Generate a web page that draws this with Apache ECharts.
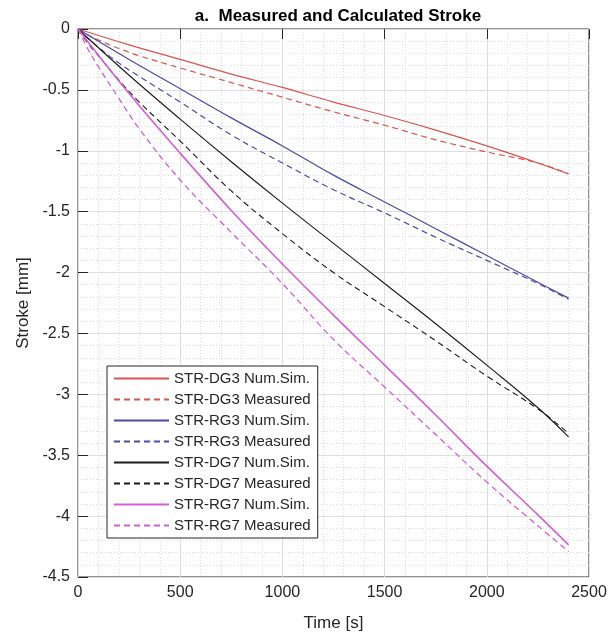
<!DOCTYPE html>
<html>
<head>
<meta charset="utf-8">
<script src="https://cdn.jsdelivr.net/npm/echarts@6/dist/echarts.min.js"></script>
<style>html,body{margin:0;padding:0;background:#fff;}#c{width:611px;height:641px;}</style>
</head>
<body>
<div id="c"></div>
<script>
// Time samples [s]
const tNum = [0, 250, 500, 750, 1000, 1250, 1500, 1750, 2000, 2250, 2400];
const tMeas = [0, 50, 100, 200, 300, 500, 750, 1000, 1250, 1500, 1750, 2000, 2250, 2400];

// Stroke [mm]
const dg3Num  = [0, -0.13, -0.25, -0.37, -0.48, -0.60, -0.71, -0.83, -0.96, -1.10, -1.19];
const dg3Meas = [0, -0.05, -0.09, -0.16, -0.22, -0.32, -0.44, -0.56, -0.68, -0.79, -0.91, -1.01, -1.10, -1.19];
const rg3Num  = [0, -0.25, -0.49, -0.73, -0.96, -1.20, -1.42, -1.64, -1.86, -2.08, -2.21];
const rg3Meas = [0, -0.08, -0.15, -0.28, -0.39, -0.60, -0.87, -1.10, -1.32, -1.51, -1.71, -1.90, -2.09, -2.22];
const dg7Num  = [0, -0.38, -0.74, -1.09, -1.43, -1.76, -2.09, -2.42, -2.76, -3.11, -3.35];
const dg7Meas = [0, -0.12, -0.22, -0.42, -0.60, -0.92, -1.33, -1.68, -2.00, -2.28, -2.56, -2.85, -3.12, -3.32];
const rg7Num  = [0, -0.53, -1.02, -1.49, -1.93, -2.35, -2.76, -3.17, -3.59, -3.99, -4.236];
const rg7Meas = [0, -0.17, -0.31, -0.57, -0.82, -1.24, -1.67, -2.09, -2.55, -2.94, -3.33, -3.72, -4.08, -4.29];

const seriesNames = [
  'STR-DG3 Num.Sim.', 'STR-DG3 Measured',
  'STR-RG3 Num.Sim.', 'STR-RG3 Measured',
  'STR-DG7 Num.Sim.', 'STR-DG7 Measured',
  'STR-RG7 Num.Sim.', 'STR-RG7 Measured'
];

const pair = (t, v) => t.map((x, i) => [x, v[i]]);
const FONT = '"Liberation Sans", Arial, sans-serif';
const TXT = '#262626';

function mk(name, t, v, color, dashed, width) {
  return {
    name: name, type: 'line', data: pair(t, v), showSymbol: false, symbol: 'none',
    smooth: 0.4, animation: false,
    lineStyle: { color: color, width: width || 1, type: dashed ? [6, 4] : 'solid' },
    itemStyle: { color: color }
  };
}

const chart = echarts.init(document.getElementById('c'), null, { renderer: 'canvas' });
const G = { left: 78, right: 22, top: 29, bottom: 64 };
const majorSplit = { show: true, lineStyle: { color: '#dedede', width: 1 } };
const minorSplit = { show: true, lineStyle: { color: '#dddddd', width: 1, type: [1, 2] } };
// tick-only axes shifted 5px into the plot, ticks pointing outward to the frame
const tick = { show: true, inside: false, length: 5, lineStyle: { color: '#262626' } };
function tickX(pos) {
  return { type: 'value', min: 0, max: 2500, interval: 500, position: pos, offset: -5,
    axisLine: { show: false }, axisLabel: { show: false }, axisTick: tick, splitLine: { show: false } };
}
function tickY(pos) {
  return { type: 'value', min: -4.5, max: 0, interval: 0.5, position: pos, offset: -5,
    axisLine: { show: false }, axisLabel: { show: false }, axisTick: tick, splitLine: { show: false } };
}

chart.setOption({
  backgroundColor: '#ffffff',
  animation: false,
  textStyle: { fontFamily: FONT },
  title: {
    text: 'a.  Measured and Calculated Stroke',
    left: 333, top: 3, textAlign: 'center',
    textStyle: { fontFamily: FONT, fontWeight: 'bold', fontSize: 17, color: '#000' }
  },
  grid: { left: G.left, right: G.right, top: G.top, bottom: G.bottom, show: true, borderColor: '#262626', borderWidth: 1, backgroundColor: 'transparent' },
  legend: {
    orient: 'vertical', left: 107, top: 366,
    data: seriesNames,
    itemWidth: 55, itemHeight: 14, itemGap: 6,
    padding: [5, 7, 5, 6],
    itemStyle: { opacity: 0 },
    backgroundColor: '#fff', borderColor: '#262626', borderWidth: 1,
    textStyle: { fontFamily: FONT, fontSize: 15, color: TXT, lineHeight: 14 }
  },
  xAxis: [{
    type: 'value', min: 0, max: 2500, interval: 500, position: 'bottom',
    name: 'Time [s]', nameLocation: 'middle', nameGap: 38,
    nameTextStyle: { fontFamily: FONT, fontSize: 17, color: TXT },
    axisLine: { show: false },
    axisTick: { show: false },
    axisLabel: { fontFamily: FONT, fontSize: 16, color: TXT, margin: 8, formatter: v => String(v) },
    splitLine: majorSplit,
    minorTick: { show: false, splitNumber: 5 },
    minorSplitLine: minorSplit
  }, tickX('top'), tickX('bottom')],
  yAxis: [{
    type: 'value', min: -4.5, max: 0, interval: 0.5, position: 'left',
    name: 'Stroke [mm]', nameLocation: 'middle', nameGap: 46,
    nameTextStyle: { fontFamily: FONT, fontSize: 17, color: TXT },
    axisLine: { show: false },
    axisTick: { show: false },
    axisLabel: { fontFamily: FONT, fontSize: 16, color: TXT, margin: 8, formatter: v => String(v) },
    splitLine: majorSplit,
    minorTick: { show: false, splitNumber: 5 },
    minorSplitLine: minorSplit
  }, tickY('right'), tickY('left')],
  series: [
    mk(seriesNames[0], tNum, dg3Num, '#d9534f', false, 1.2),
    mk(seriesNames[1], tMeas, dg3Meas, '#d9534f', true, 1.2),
    mk(seriesNames[2], tNum, rg3Num, '#4a4aa8', false, 1.2),
    mk(seriesNames[3], tMeas, rg3Meas, '#4a4aa8', true, 1.2),
    mk(seriesNames[4], tNum, dg7Num, '#1a1a1a', false, 1.1),
    mk(seriesNames[5], tMeas, dg7Meas, '#1a1a1a', true, 1.1),
    mk(seriesNames[6], tNum, rg7Num, '#d35fd3', false, 1.6),
    mk(seriesNames[7], tMeas, rg7Meas, '#d35fd3', true, 1.3)
  ]
});
</script>
</body>
</html>
